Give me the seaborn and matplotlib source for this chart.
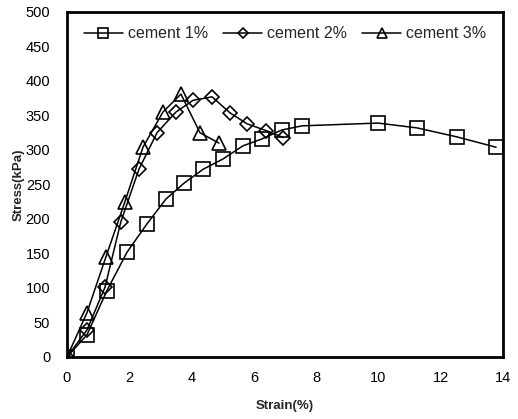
import matplotlib
matplotlib.use("Agg")
import matplotlib.pyplot as plt
import seaborn as sns
import pandas as pd

# Stress-strain readings for three cement contents
strain_c1 = [0.0, 0.64, 1.28, 1.93, 2.57, 3.18, 3.76, 4.37, 5.01, 5.65, 6.26, 6.9, 7.55, 9.99, 11.24, 12.52, 13.78]
stress_c1 = [0, 32, 96, 152, 193, 229, 252, 272, 287, 306, 316, 329, 335, 339, 332, 319, 304]

strain_c2 = [0.0, 0.64, 1.22, 1.73, 2.31, 2.89, 3.5, 4.05, 4.66, 5.23, 5.78, 6.4, 6.95]
stress_c2 = [0, 39, 101, 196, 272, 325, 355, 372, 377, 354, 338, 328, 318]

strain_c3 = [0.0, 0.64, 1.25, 1.86, 2.44, 3.08, 3.66, 4.27, 4.88]
stress_c3 = [0, 64, 145, 225, 304, 355, 381, 325, 310]

labels = ["cement 1%", "cement 2%", "cement 3%"]
markers = ["s", "D", "^"]
sizes = [9.5, 7, 9.5]

x_ticks = [0, 2, 4, 6, 8, 10, 12, 14]
y_ticks = [0, 50, 100, 150, 200, 250, 300, 350, 400, 450, 500]

sns.set_theme(style="white")
plt.rcParams["font.family"] = ["Liberation Sans", "DejaVu Sans"]

fig = plt.figure(figsize=(5.18, 4.19), dpi=100)
ax = fig.add_axes([0.1293, 0.148, 0.8417, 0.8234])

series = [(strain_c1, stress_c1), (strain_c2, stress_c2), (strain_c3, stress_c3)]
for (xs, ys), lab, mk, ms in zip(series, labels, markers, sizes):
    df = pd.DataFrame({"Strain": xs, "Stress": ys})
    sns.lineplot(data=df, x="Strain", y="Stress", ax=ax, color="black",
                 linewidth=1.1, marker=mk, markersize=ms,
                 markerfacecolor="none", markeredgecolor="black",
                 markeredgewidth=1.2, label=lab, sort=False)

ax.set_xlim(0, 14)
ax.set_ylim(0, 500)
ax.set_xticks(x_ticks)
ax.set_yticks(y_ticks)
ax.tick_params(axis="both", labelsize=10.5, colors="black", length=3,
               direction="out", width=1)
ax.tick_params(axis="y", pad=9)
ax.tick_params(axis="x", pad=7)
ax.set_xlabel("Strain(%)", fontsize=9.5, fontweight="bold", labelpad=11)
ax.set_ylabel("Stress(kPa)", fontsize=9.5, fontweight="bold", labelpad=1)

for sp in ax.spines.values():
    sp.set_color("black")
    sp.set_linewidth(2)

ax.legend(loc="upper center", ncol=3, frameon=False, fontsize=11.5,
          handlelength=2.45, handletextpad=0.3, columnspacing=0.95,
          markerscale=0.75, bbox_to_anchor=(0.5, 1.0), borderaxespad=0.5)

fig.savefig("out.png", dpi=100)
